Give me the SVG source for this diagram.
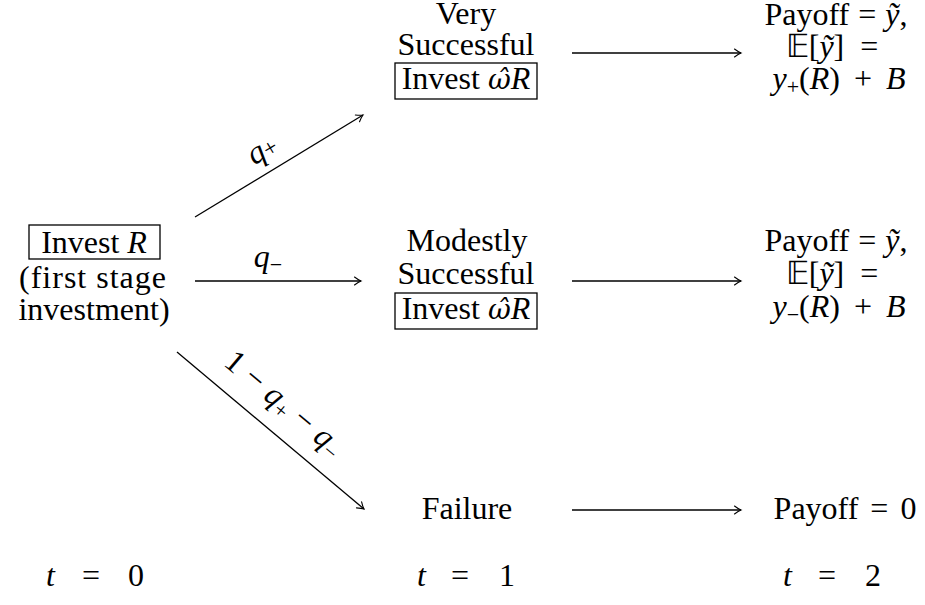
<svg xmlns="http://www.w3.org/2000/svg" width="925" height="605" viewBox="0 0 925 605">
<defs>
<style>
.c{text-anchor:middle;}
.i{font-style:italic;}
.s{font-size:22px;}
.box{fill:none;stroke:#000;stroke-width:1.3;}
.ar{fill:none;stroke:#000;stroke-width:1.3;marker-end:url(#ah);}
</style>
<marker id="ah" viewBox="-8 -5 10 10" refX="0" refY="0" markerWidth="10" markerHeight="10" markerUnits="userSpaceOnUse" orient="auto">
<path d="M -6.5 -4 Q -2.5 -1 0 0 Q -2.5 1 -6.5 4" fill="none" stroke="#000" stroke-width="1.1" stroke-linecap="round"/>
</marker>
</defs>
<rect width="925" height="605" fill="#fff"/>

<g font-family="Liberation Serif, Times New Roman, serif" font-size="32" fill="#000">

<g id="connectors">
<line class="ar" x1="195" y1="217" x2="363" y2="115"/>
<line class="ar" x1="195" y1="281" x2="361" y2="281"/>
<line class="ar" x1="177" y1="352" x2="364" y2="509"/>
<line class="ar" x1="572" y1="53" x2="741" y2="53"/>
<line class="ar" x1="572" y1="281" x2="741" y2="281"/>
<line class="ar" x1="572" y1="510" x2="741" y2="510"/>
<text transform="translate(267,158) rotate(-31)" class="c"><tspan class="i">q</tspan><tspan font-size="24" dy="1">+</tspan></text>
<text x="268" y="267" class="c"><tspan class="i">q</tspan><tspan class="s" dy="5">−</tspan></text>
<text transform="translate(278,411) rotate(40)" class="c">1<tspan dx="9">−</tspan><tspan class="i" dx="9">q</tspan><tspan class="s" dy="5">+</tspan><tspan dy="-5" dx="9">−</tspan><tspan class="i" dx="9">q</tspan><tspan class="s" dy="5">−</tspan></text>
</g>

<g id="start">
<rect class="box" x="29" y="225" width="131" height="34"/>
<text x="94" y="253" class="c">Invest <tspan class="i">R</tspan></text>
<text x="93" y="288" class="c" letter-spacing="1">(first stage</text>
<text x="94" y="320" class="c">investment)</text>
</g>

<g id="very-successful">
<text x="466" y="24" class="c">Very</text>
<text x="466" y="55" class="c">Successful</text>
<rect class="box" x="395" y="63" width="142" height="36"/>
<text x="466" y="89" class="c">Invest <tspan class="i" font-family="DejaVu Serif" font-size="28">ω̂</tspan><tspan class="i">R</tspan></text>
</g>

<g id="modestly-successful">
<text x="467" y="251" class="c">Modestly</text>
<text x="466" y="284" class="c">Successful</text>
<rect class="box" x="395" y="293" width="142" height="36"/>
<text x="466" y="319" class="c">Invest <tspan class="i" font-family="DejaVu Serif" font-size="28">ω̂</tspan><tspan class="i">R</tspan></text>
</g>

<g id="failure">
<text x="467" y="519" class="c">Failure</text>
</g>

<g id="payoff-plus">
<text x="836" y="25" class="c">Payoff<tspan dx="9">=</tspan><tspan class="i" dx="9">ỹ</tspan>,</text>
<text x="832" y="57" class="c">𝔼[<tspan class="i">ỹ</tspan>]<tspan dx="16">=</tspan></text>
<text x="839" y="89" class="c"><tspan class="i">y</tspan><tspan class="s" dy="5">+</tspan><tspan dy="-5">(</tspan><tspan class="i">R</tspan>)<tspan dx="14">+</tspan><tspan class="i" dx="14">B</tspan></text>
</g>

<g id="payoff-minus">
<text x="836" y="251" class="c">Payoff<tspan dx="9">=</tspan><tspan class="i" dx="9">ỹ</tspan>,</text>
<text x="832" y="284" class="c">𝔼[<tspan class="i">ỹ</tspan>]<tspan dx="16">=</tspan></text>
<text x="839" y="317" class="c"><tspan class="i">y</tspan><tspan class="s" dy="5">−</tspan><tspan dy="-5">(</tspan><tspan class="i">R</tspan>)<tspan dx="14">+</tspan><tspan class="i" dx="14">B</tspan></text>
</g>

<g id="payoff-zero">
<text x="845" y="519" class="c">Payoff<tspan dx="12">=</tspan><tspan dx="12">0</tspan></text>
</g>

<g id="time-labels">
<text y="586"><tspan class="i" x="46">t</tspan><tspan x="82">=</tspan><tspan x="128">0</tspan></text>
<text y="586"><tspan class="i" x="417">t</tspan><tspan x="451">=</tspan><tspan x="499">1</tspan></text>
<text y="586"><tspan class="i" x="783">t</tspan><tspan x="818">=</tspan><tspan x="865">2</tspan></text>
</g>

</g>
</svg>
